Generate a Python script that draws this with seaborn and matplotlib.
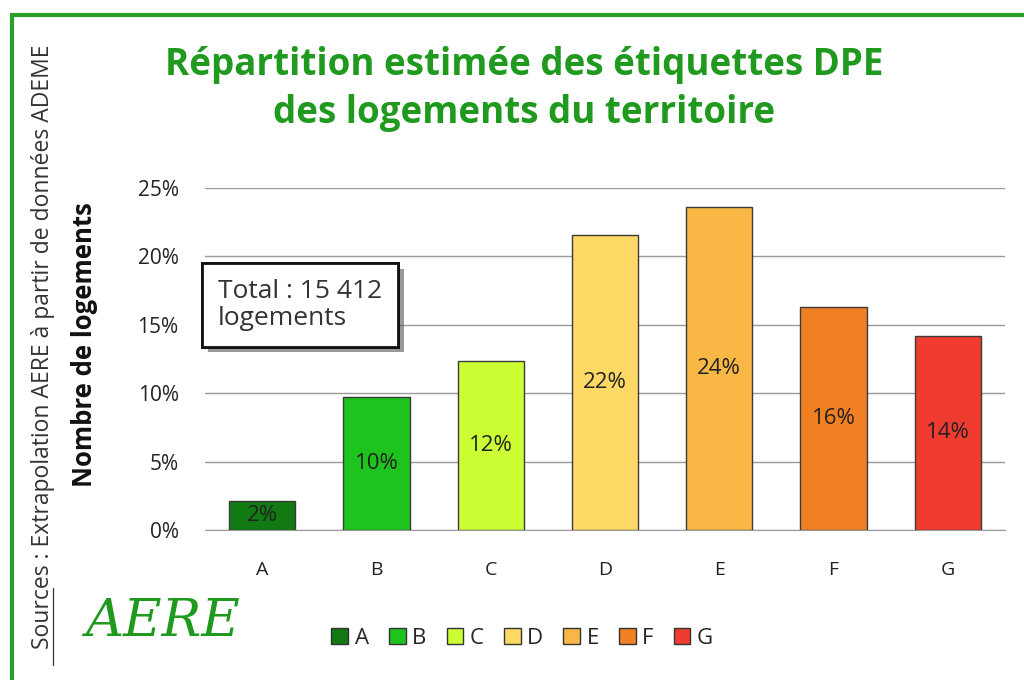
import numpy as np
import pandas as pd
import matplotlib
matplotlib.use("Agg")
import matplotlib.pyplot as plt
import matplotlib.patheffects as pe
from matplotlib.patches import Rectangle, Patch
from matplotlib.lines import Line2D
import seaborn as sns

# Données
classes = ['A', 'B', 'C', 'D', 'E', 'F', 'G']
parts = [2.1, 9.7, 12.35, 21.6, 23.6, 16.3, 14.2]
couleurs = ['#127a12', '#1ec41e', '#ccff33', '#ffd966', '#f9b845', '#f08022', '#f03c30']
yticks = [0, 5, 10, 15, 20, 25]

df = pd.DataFrame({'Classe': classes, 'Part': parts})

sns.set_style("white")
plt.rcParams['font.family'] = ['Open Sans', 'DejaVu Sans']

fig = plt.figure(figsize=(10.24, 6.8), dpi=100)
ax = fig.add_axes([205 / 1024, 1 - 530 / 680, 800 / 1024, 342 / 680])

sns.barplot(data=df, x='Classe', y='Part', hue='Classe', palette=couleurs, saturation=1,
            width=0.58, edgecolor='#3a3a3a', linewidth=1.0, legend=False, ax=ax, zorder=3)

ax.set_ylim(0, 25)
ax.set_xlim(-0.5, 6.5)
ax.set_yticks(yticks)
ax.set_yticklabels([f"{t}%" for t in yticks], fontsize=15, color='#222222')
ax.tick_params(axis='x', labelsize=14, pad=22, length=0, labelcolor='#222222')
ax.tick_params(axis='y', length=0, pad=19)
ax.yaxis.grid(True, color='#9a9a9a', linewidth=1.0, zorder=0)
ax.set_axisbelow(True)
for s in ['top', 'right', 'left']:
    ax.spines[s].set_visible(False)
ax.spines['bottom'].set_color('#9a9a9a')
ax.set_xlabel('')
ax.set_ylabel('')

for cont in ax.containers:
    ax.bar_label(cont, labels=[f"{v:.0f}%" for v in cont.datavalues],
                 label_type='center', fontsize=16, color='#222222')

# Titre
fig.text(0.512, 1 - 65 / 680, "Répartition estimée des étiquettes DPE",
         ha='center', va='center', fontsize=26.5, fontweight='bold', color='#1f9a1f')
fig.text(0.512, 1 - 113 / 680, "des logements du territoire",
         ha='center', va='center', fontsize=26.5, fontweight='bold', color='#1f9a1f')

# Titre d'axe et source
fig.text(85 / 1024, 1 - 345 / 680, "Nombre de logements", rotation=90,
         ha='center', va='center', fontsize=18.5, fontweight='bold', color='#111111')
src = fig.text(43 / 1024, 1 - 347 / 680, "Sources : Extrapolation AERE à partir de données ADEME",
               rotation=90, ha='center', va='center', fontsize=16.5, color='#333333')
fig.add_artist(Line2D([53 / 1024, 53 / 1024], [1 - 665 / 680, 1 - 588 / 680],
                      transform=fig.transFigure, color='#333333', linewidth=0.9))

# Encadré total
box = fig.text(218 / 1024, 1 - 305 / 680, "Total : 15 412\nlogements", ha='left', va='center',
               fontsize=19, color='#333333', linespacing=1.1,
               bbox=dict(boxstyle='square,pad=0.6', facecolor='white', edgecolor='#111111', linewidth=2))
box.get_bbox_patch().set_path_effects([pe.withSimplePatchShadow(offset=(4, -4), shadow_rgbFace='#555555', alpha=0.6),
                                       pe.Normal()])

# Logo
fig.text(85 / 1024, 1 - 622 / 680, "AERE", ha='left', va='center', fontsize=38,
         style='italic', family='DejaVu Serif', color='#1f9a1f')

# Légende
handles = [Patch(facecolor=c, edgecolor='#333333', linewidth=1.0) for c in couleurs]
fig.legend(handles, classes, loc='center', bbox_to_anchor=(0.51, 1 - 638 / 680), ncol=7,
           frameon=False, fontsize=16, handlelength=0.75, handleheight=0.75,
           handletextpad=0.3, columnspacing=0.9)

# Cadre vert
fig.add_artist(Rectangle((12 / 1024, -0.02), 1.05, 1 - 15 / 680 + 0.02, transform=fig.transFigure,
                         fill=False, edgecolor='#2aa02a', linewidth=3))

fig.savefig("out.png", dpi=100)
